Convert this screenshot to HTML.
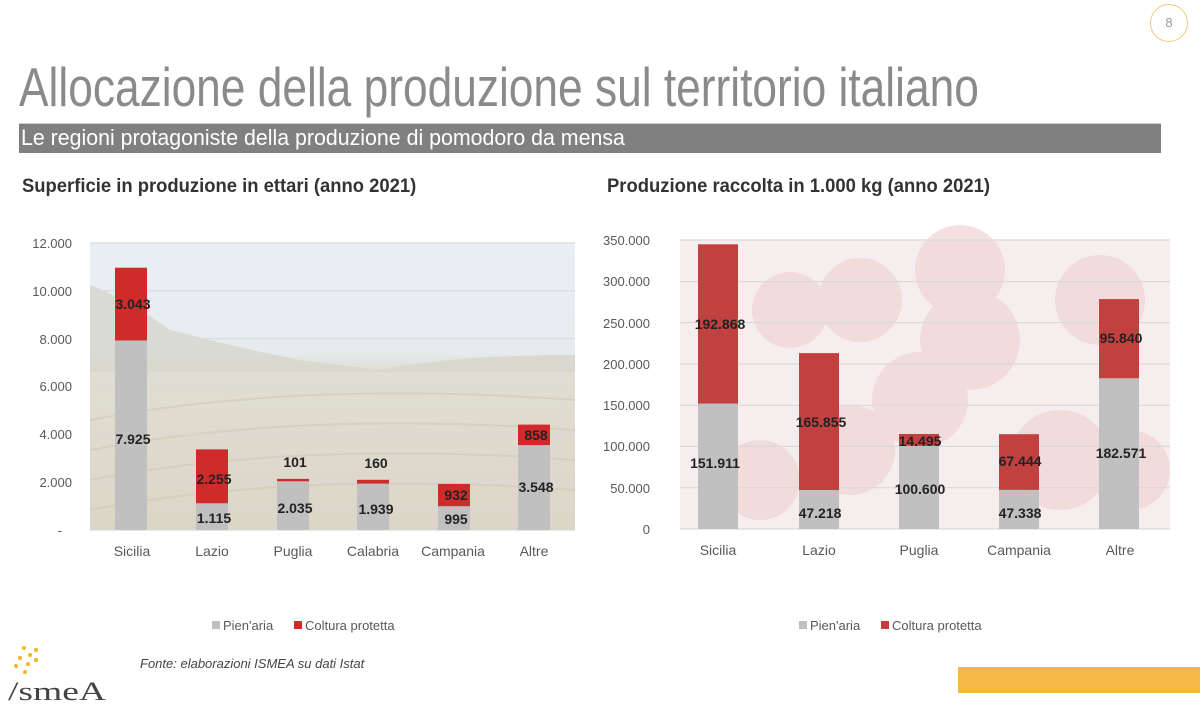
<!DOCTYPE html>
<html><head><meta charset="utf-8"><style>
body{margin:0;width:1200px;height:708px;background:#fff;overflow:hidden;position:relative;font-family:"Liberation Sans",sans-serif}
.abs{position:absolute}
</style></head><body>
<div class="abs" style="left:1150px;top:4px;width:36px;height:36px;border:1.5px solid #f5c97a;border-radius:50%;color:#999;font-size:13px;text-align:center;line-height:36px">8</div>
<div class="abs" style="left:19px;top:55px;font-size:55px;color:#8a8a8a;white-space:nowrap;transform:scaleX(0.805);transform-origin:0 0">Allocazione della produzione sul territorio italiano</div>
<div class="abs" style="left:19px;top:123px;width:1142px;height:29px;background:#808080;border-top:1px solid #ccc"></div>
<div class="abs" style="left:21px;top:125px;font-size:22px;color:#fff;white-space:nowrap;transform:scaleX(0.97);transform-origin:0 0">Le regioni protagoniste della produzione di pomodoro da mensa</div>
<div class="abs" style="left:22px;top:176px;font-size:19px;font-weight:bold;color:#333;white-space:nowrap;transform:scaleX(0.97);transform-origin:0 0">Superficie in produzione in ettari (anno 2021)</div>
<div class="abs" style="left:607px;top:176px;font-size:19px;font-weight:bold;color:#333;white-space:nowrap;transform:scaleX(0.97);transform-origin:0 0">Produzione raccolta in 1.000 kg (anno 2021)</div>
<svg class="abs" style="left:0;top:0" width="1200" height="708" font-family="Liberation Sans, sans-serif">
<defs>
<linearGradient id="sky" x1="0" y1="0" x2="0" y2="1"><stop offset="0" stop-color="#e9eff4"/><stop offset="0.38" stop-color="#e6ebee"/><stop offset="0.45" stop-color="#e0ddd2"/><stop offset="1" stop-color="#dcd6c8"/></linearGradient>
</defs>
<rect x="90" y="243" width="485" height="287" fill="url(#sky)"/>
<path d="M90 285 Q130 300 170 330 L210 340 Q250 350 300 360 L380 370 Q450 355 575 355 L575 372 L90 372Z" fill="#d6d6cc" opacity="0.8"/>
<g stroke="#d2c8b8" stroke-width="2" opacity="0.6" fill="none">
<path d="M90 420 Q300 380 575 400"/><path d="M90 450 Q300 410 575 430"/><path d="M90 480 Q300 440 575 460"/><path d="M90 510 Q300 470 575 490"/>
</g>
<rect x="680" y="240" width="490" height="289" fill="#f6eeee"/>
<g fill="#efd3d3" opacity="0.7">
<circle cx="790" cy="310" r="38"/><circle cx="860" cy="300" r="42"/><circle cx="960" cy="270" r="45"/><circle cx="970" cy="340" r="50"/><circle cx="920" cy="400" r="48"/><circle cx="1100" cy="300" r="45"/><circle cx="1060" cy="460" r="50"/><circle cx="1130" cy="470" r="40"/><circle cx="760" cy="480" r="40"/><circle cx="850" cy="450" r="45"/>
</g>
<g stroke="#d9d9d9" stroke-width="1.2">
<line x1="90" x2="575" y1="243" y2="243"/><line x1="90" x2="575" y1="290.8" y2="290.8"/><line x1="90" x2="575" y1="338.7" y2="338.7"/><line x1="90" x2="575" y1="386.5" y2="386.5"/><line x1="90" x2="575" y1="434.3" y2="434.3"/><line x1="90" x2="575" y1="482.2" y2="482.2"/><line x1="90" x2="575" y1="530" y2="530"/>
</g>
<g font-size="13" fill="#595959" text-anchor="end">
<text x="72" y="248">12.000</text><text x="72" y="296">10.000</text><text x="72" y="344">8.000</text><text x="72" y="391">6.000</text><text x="72" y="439">4.000</text><text x="72" y="487">2.000</text><text x="62" y="535">-</text>
</g>
<g fill="#c0c0c0">
<rect x="115" y="340.5" width="32" height="189.5"/><rect x="196" y="503.3" width="32" height="26.7"/><rect x="277" y="481.3" width="32" height="48.7"/><rect x="357" y="483.6" width="32" height="46.4"/><rect x="438" y="506.2" width="32" height="23.8"/><rect x="518" y="445.1" width="32" height="84.9"/>
</g>
<g fill="#d02b2b">
<rect x="115" y="267.7" width="32" height="72.8"/><rect x="196" y="449.4" width="32" height="53.9"/><rect x="277" y="478.9" width="32" height="2.4"/><rect x="357" y="479.8" width="32" height="3.8"/><rect x="438" y="483.9" width="32" height="22.3"/><rect x="518" y="424.6" width="32" height="20.5"/>
</g>
<g font-size="14" font-weight="bold" fill="#222" text-anchor="middle">
<text x="133" y="309">3.043</text><text x="133" y="444">7.925</text>
<text x="214" y="484">2.255</text><text x="214" y="523">1.115</text>
<text x="295" y="467">101</text><text x="295" y="513">2.035</text>
<text x="376" y="468">160</text><text x="376" y="514">1.939</text>
<text x="456" y="500">932</text><text x="456" y="524">995</text>
<text x="536" y="440">858</text><text x="536" y="492">3.548</text>
</g>
<g font-size="14" fill="#595959" text-anchor="middle">
<text x="132" y="556">Sicilia</text><text x="212" y="556">Lazio</text><text x="293" y="556">Puglia</text><text x="373" y="556">Calabria</text><text x="453" y="556">Campania</text><text x="534" y="556">Altre</text>
</g>
<g stroke="#d9d9d9" stroke-width="1.2">
<line x1="680" x2="1170" y1="240" y2="240"/><line x1="680" x2="1170" y1="281.6" y2="281.6"/><line x1="680" x2="1170" y1="322.6" y2="322.6"/><line x1="680" x2="1170" y1="364" y2="364"/><line x1="680" x2="1170" y1="405.3" y2="405.3"/><line x1="680" x2="1170" y1="446.4" y2="446.4"/><line x1="680" x2="1170" y1="487.7" y2="487.7"/><line x1="680" x2="1170" y1="529" y2="529"/>
</g>
<g font-size="13" fill="#595959" text-anchor="end">
<text x="650" y="245">350.000</text><text x="650" y="286">300.000</text><text x="650" y="328">250.000</text><text x="650" y="369">200.000</text><text x="650" y="410">150.000</text><text x="650" y="451">100.000</text><text x="650" y="493">50.000</text><text x="650" y="534">0</text>
</g>
<g fill="#c0c0c0">
<rect x="698" y="403.6" width="40" height="125.4"/><rect x="799" y="490" width="40" height="39"/><rect x="899" y="445.9" width="40" height="83.1"/><rect x="999" y="489.9" width="40" height="39.1"/><rect x="1099" y="378.3" width="40" height="150.7"/>
</g>
<g fill="#c0413f">
<rect x="698" y="244.3" width="40" height="159.3"/><rect x="799" y="353.1" width="40" height="136.9"/><rect x="899" y="434" width="40" height="11.9"/><rect x="999" y="434.2" width="40" height="55.7"/><rect x="1099" y="299.1" width="40" height="79.2"/>
</g>
<g font-size="14" font-weight="bold" fill="#222" text-anchor="middle">
<text x="720" y="329">192.868</text><text x="715" y="468">151.911</text>
<text x="821" y="427">165.855</text><text x="820" y="518">47.218</text>
<text x="920" y="446">14.495</text><text x="920" y="494">100.600</text>
<text x="1020" y="466">67.444</text><text x="1020" y="518">47.338</text>
<text x="1121" y="343">95.840</text><text x="1121" y="458">182.571</text>
</g>
<g font-size="14" fill="#595959" text-anchor="middle">
<text x="718" y="555">Sicilia</text><text x="819" y="555">Lazio</text><text x="919" y="555">Puglia</text><text x="1019" y="555">Campania</text><text x="1120" y="555">Altre</text>
</g>
<g font-size="13" fill="#595959">
<rect x="212" y="621" width="8" height="8" fill="#c0c0c0"/><text x="223" y="630">Pien'aria</text>
<rect x="294" y="621" width="8" height="8" fill="#d02b2b"/><text x="305" y="630">Coltura protetta</text>
<rect x="799" y="621" width="8" height="8" fill="#c0c0c0"/><text x="810" y="630">Pien'aria</text>
<rect x="881" y="621" width="8" height="8" fill="#c0413f"/><text x="892" y="630">Coltura protetta</text>
</g>
<text x="140" y="668" font-size="13" font-style="italic" fill="#444">Fonte: elaborazioni ISMEA su dati Istat</text>
<g fill="#f3b323"><circle cx="24" cy="648" r="2"/><circle cx="30" cy="655" r="2"/><circle cx="36" cy="650" r="2"/><circle cx="20" cy="658" r="2"/><circle cx="28" cy="664" r="2"/><circle cx="36" cy="660" r="2"/><circle cx="16" cy="666" r="2"/><circle cx="25" cy="672" r="2"/></g>
<text x="8" y="700" font-size="26" font-family="Liberation Serif, serif" fill="#444" textLength="98" lengthAdjust="spacingAndGlyphs">/smeA</text>
<rect x="958" y="667" width="242" height="26" fill="#f8b944"/>
</svg>
</body></html>
